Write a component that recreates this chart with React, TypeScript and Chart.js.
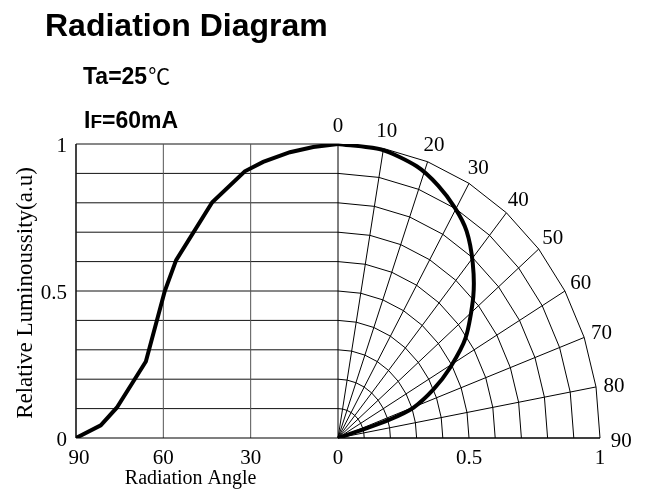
import React, { useEffect, useRef } from 'react';
import { Chart, registerables } from 'chart.js';

Chart.register(...registerables);

// Cartesian (left) curve: angle in degrees -> relative luminosity
const leftAngles = [90, 81.5, 76, 66, 59.5, 55.6, 43.2, 32, 25.7, 16.5, 8.5, 0];
const leftValues = [0, 0.043, 0.103, 0.26, 0.5, 0.605, 0.802, 0.907, 0.939, 0.972, 0.99, 1];

// Polar (right) curve: angle in degrees -> relative luminosity
const polarAngles = [0, 9.6, 18, 24, 29.7, 34.9, 40.8, 47, 55, 60.8, 65.6, 70.3, 72.4, 73.3, 75];
const polarValues = [1, 0.995, 0.972, 0.94, 0.901, 0.858, 0.787, 0.706, 0.595, 0.49, 0.4, 0.305, 0.208, 0.101, 0];

// Axis / grid definitions
const leftXTicks = [90, 60, 30, 0];
const rightXTicks = [0.5, 1];
const yTickValues = [0, 0.5, 1];
const yGridValues = [0.1, 0.2, 0.3, 0.4, 0.5, 0.6, 0.7, 0.8, 0.9, 1];
const ringRadii = [0.1, 0.2, 0.3, 0.4, 0.5, 0.6, 0.7, 0.8, 0.9, 1];
const spokeAngles = [0, 10, 20, 30, 40, 50, 60, 70, 80, 90];

const titleText = 'Radiation Diagram';
const xTitle = 'Radiation Angle';
const yTitle = 'Relative Luminoussity(a.u)';

const rad = (d: number) => (d * Math.PI) / 180;

const SERIF = '"Liberation Serif", "Times New Roman", serif';
const SANS = '"Liberation Sans", Arial, sans-serif';

const gridPlugin = {
  id: 'radGrid',
  beforeDatasetsDraw(chart: any) {
    const { ctx } = chart;
    const xs = chart.scales.x;
    const ys = chart.scales.y;
    const px = (v: number) => xs.getPixelForValue(v);
    const py = (v: number) => ys.getPixelForValue(v);
    const line = (x1: number, y1: number, x2: number, y2: number) => {
      ctx.beginPath();
      ctx.moveTo(x1, y1);
      ctx.lineTo(x2, y2);
      ctx.stroke();
    };
    ctx.save();
    ctx.lineWidth = 1;
    ctx.strokeStyle = '#111';
    yGridValues.forEach((v) => line(px(-1), py(v), px(0), py(v)));
    ctx.strokeStyle = '#555';
    leftXTicks.forEach((a) => {
      if (a !== 0) line(px(-a / 90), py(0), px(-a / 90), py(1));
    });
    ctx.strokeStyle = '#000';
    spokeAngles.forEach((a) =>
      line(px(0), py(0), px(Math.sin(rad(a))), py(Math.cos(rad(a))))
    );
    ringRadii.forEach((r) => {
      ctx.beginPath();
      spokeAngles.forEach((a, i) => {
        const X = px(r * Math.sin(rad(a)));
        const Y = py(r * Math.cos(rad(a)));
        if (i === 0) ctx.moveTo(X, Y);
        else ctx.lineTo(X, Y);
      });
      ctx.stroke();
    });
    ctx.lineWidth = 1.2;
    line(px(-1), py(0), px(1), py(0));
    line(px(-1), py(0), px(-1), py(1));
    ctx.restore();
  },
  afterDraw(chart: any) {
    const { ctx } = chart;
    const xs = chart.scales.x;
    const ys = chart.scales.y;
    const px = (v: number) => xs.getPixelForValue(v);
    const py = (v: number) => ys.getPixelForValue(v);
    ctx.save();
    ctx.fillStyle = '#000';

    // Title and conditions
    ctx.textAlign = 'left';
    ctx.textBaseline = 'alphabetic';
    ctx.font = `bold 32px ${SANS}`;
    ctx.fillText(titleText, 45, 36);

    ctx.font = `bold 23px ${SANS}`;
    ctx.fillText('Ta=25', 83, 84);
    let w = ctx.measureText('Ta=25').width;
    ctx.font = `22px "Noto Sans CJK SC", ${SANS}`;
    ctx.fillText('℃', 83 + w + 1, 84);

    ctx.font = `bold 23px ${SANS}`;
    ctx.fillText('I', 84, 128);
    w = ctx.measureText('I').width;
    ctx.font = `bold 19px ${SANS}`;
    ctx.fillText('F', 84 + w, 128);
    const w2 = ctx.measureText('F').width;
    ctx.font = `bold 23px ${SANS}`;
    ctx.fillText('=60mA', 84 + w + w2, 128);

    // Y tick labels
    ctx.font = `21px ${SERIF}`;
    ctx.textAlign = 'right';
    ctx.textBaseline = 'middle';
    yTickValues.forEach((v) => ctx.fillText(String(v), px(-1) - 9, py(v) + 2));

    // X tick labels
    ctx.textAlign = 'center';
    leftXTicks.forEach((a) => ctx.fillText(String(a), px(-a / 90) + (a === 90 ? 3 : 0), py(0) + 20));
    rightXTicks.forEach((r) => ctx.fillText(String(r), px(r), py(0) + 20));

    // Angle labels around the polar grid
    spokeAngles.forEach((a) => {
      const X = px(1.07 * Math.sin(rad(a)));
      const Y = py(1.07 * Math.cos(rad(a)));
      ctx.fillText(String(a), X + (a === 90 ? 3 : 0), Y + 3);
    });

    // Axis titles
    ctx.font = `20px ${SERIF}`;
    ctx.fillText(xTitle, px(-0.5625), py(0) + 41);

    ctx.save();
    ctx.translate(26, (py(0) + py(1)) / 2 + 2);
    ctx.rotate(-Math.PI / 2);
    ctx.font = `23px ${SERIF}`;
    ctx.fillText(yTitle, 0, 0);
    ctx.restore();

    ctx.restore();
  },
};

export default function App() {
  const canvasRef = useRef<HTMLCanvasElement | null>(null);

  useEffect(() => {
    if (!canvasRef.current) return;
    const leftData = leftAngles.map((a, i) => ({ x: -a / 90, y: leftValues[i] }));
    const polarData = polarAngles.map((a, i) => ({
      x: polarValues[i] * Math.sin(rad(a)),
      y: polarValues[i] * Math.cos(rad(a)),
    }));
    const chart = new Chart(canvasRef.current, {
      type: 'scatter',
      data: {
        datasets: [
          {
            data: leftData,
            showLine: true,
            borderColor: '#000',
            backgroundColor: '#000',
            borderWidth: 4,
            pointRadius: 0,
            tension: 0,
          },
          {
            data: polarData,
            showLine: true,
            borderColor: '#000',
            backgroundColor: '#000',
            borderWidth: 4,
            pointRadius: 0,
            tension: 0.25,
          },
        ],
      },
      options: {
        responsive: false,
        animation: false,
        devicePixelRatio: window.devicePixelRatio || 1,
        layout: { padding: { left: 76, right: 48, top: 144, bottom: 52 } },
        scales: {
          x: { type: 'linear', min: -1, max: 1, display: false },
          y: { type: 'linear', min: 0, max: 1, display: false },
        },
        plugins: {
          legend: { display: false },
          tooltip: { enabled: false },
        },
      },
      plugins: [gridPlugin],
    } as any);
    return () => chart.destroy();
  }, []);

  return (
    <div style={{ position: 'absolute', left: 0, top: 0, width: 648, height: 490, background: '#fff' }}>
      <canvas ref={canvasRef} width={648} height={490} style={{ width: 648, height: 490, display: 'block' }} />
    </div>
  );
}
